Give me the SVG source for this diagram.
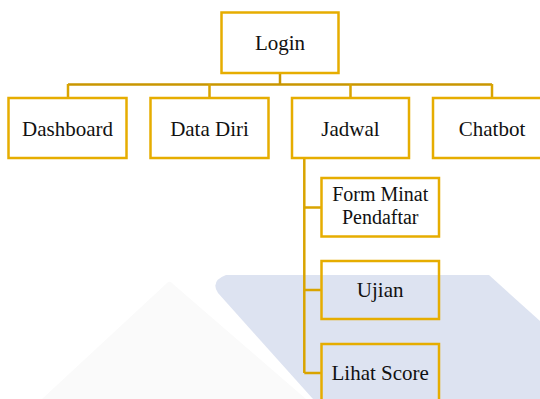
<svg xmlns="http://www.w3.org/2000/svg" width="540" height="399" viewBox="0 0 540 399">
<style>
.box{fill:#ffffff;stroke:#e6ad00;stroke-width:2.5}
.sub{fill:none;stroke:#e6ad00;stroke-width:2.5}
.t{font-family:"Liberation Serif","Times New Roman",serif;font-size:21px;fill:#111111;text-anchor:middle}
.t2{font-size:20px}
.c{fill:none;stroke:#d9a400;stroke-width:2.5}
.cd{fill:none;stroke:#c99600;stroke-width:2.5}
</style>
<rect width="540" height="399" fill="#ffffff"/>
<g id="watermark">
<path d="M167 283 Q170 280 173 284 L306 399 L42 399 Z" fill="#fafafa"/>
<path d="M226 275 L489 275 L540 321 L540 399 L313 399 L218 293 Q210 281 226 275 Z" fill="#dde3f1"/>
</g>
<g id="connectors">
<path class="cd" d="M280 73 V84.5 M68 84.5 H492"/>
<path class="c" d="M68 84 V98 M209.5 84 V98 M350.5 84 V98 M492 84 V98"/>
<path class="c" d="M304.3 158 V373 M304.3 207.5 H321 M304.3 290 H321 M304.3 373 H321"/>
</g>
<g id="login"><rect class="box" x="221.5" y="12.5" width="117" height="60.5"/><text class="t" x="280" y="50">Login</text></g>
<g id="dashboard"><rect class="box" x="8.5" y="98" width="118" height="60"/><text class="t" x="67.5" y="135.5">Dashboard</text></g>
<g id="datadiri"><rect class="box" x="150.5" y="98" width="118" height="60"/><text class="t" x="209.5" y="135.5">Data Diri</text></g>
<g id="jadwal"><rect class="box" x="292" y="98" width="117" height="60"/><text class="t" x="350.5" y="135.5">Jadwal</text></g>
<g id="chatbot"><rect class="box" x="433" y="98" width="118" height="60"/><text class="t" x="492" y="135.5">Chatbot</text></g>
<g id="formminat"><rect class="sub" x="321.5" y="178" width="117.5" height="58.5"/><text class="t t2" x="380.2" y="201">Form Minat</text><text class="t t2" x="380.2" y="223.5">Pendaftar</text></g>
<g id="ujian"><rect class="sub" x="321.5" y="261" width="117.5" height="58"/><text class="t" x="380.2" y="296.5">Ujian</text></g>
<g id="lihatscore"><rect class="sub" x="321.5" y="344" width="117.5" height="60"/><text class="t" x="380.2" y="380">Lihat Score</text></g>
</svg>
